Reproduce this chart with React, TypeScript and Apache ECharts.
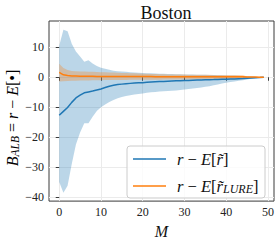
import React, { useEffect, useRef } from "react";
import * as echarts from "echarts";

const M = [0, 1, 2, 3, 4, 5, 6, 7, 8, 9, 10, 11, 12, 13, 14, 15, 16, 17, 18, 19, 20, 21, 22, 23, 24, 25, 26, 27, 28, 29, 30, 31, 32, 33, 34, 35, 36, 37, 38, 39, 40, 41, 42, 43, 44, 45, 46, 47, 48, 49];

const blueMean = [-12.7, -11.4, -10.1, -8.4, -6.9, -6.0, -5.2, -4.9, -4.6, -4.25, -3.9, -3.45, -3.0, -2.7, -2.45, -2.3, -2.15, -2.05, -1.95, -1.85, -1.8, -1.7, -1.6, -1.5, -1.45, -1.4, -1.3, -1.25, -1.2, -1.15, -1.1, -1.05, -1.0, -0.95, -0.9, -0.85, -0.8, -0.78, -0.72, -0.68, -0.65, -0.6, -0.55, -0.5, -0.45, -0.35, -0.25, -0.15, -0.08, 0.0];
const blueUpper = [10.5, 15.9, 15.4, 11.2, 8.6, 6.9, 5.2, 5.7, 4.6, 3.8, 3.2, 2.8, 2.5, 2.2, 2.0, 1.9, 1.8, 1.7, 1.6, 1.5, 1.4, 1.35, 1.3, 1.25, 1.2, 1.15, 1.1, 1.05, 1.0, 0.98, 0.95, 0.92, 0.9, 0.86, 0.82, 0.8, 0.76, 0.72, 0.7, 0.66, 0.62, 0.58, 0.55, 0.5, 0.45, 0.35, 0.25, 0.15, 0.08, 0.0];
const blueLower = [-35.0, -38.6, -36.3, -29.0, -22.5, -18.5, -15.4, -15.4, -13.2, -11.3, -10.0, -9.1, -8.3, -7.6, -7.0, -6.6, -6.3, -6.0, -5.8, -5.6, -5.4, -5.2, -5.0, -4.9, -4.8, -4.7, -4.6, -4.5, -4.4, -4.25, -4.1, -3.95, -3.8, -3.6, -3.4, -3.2, -3.0, -2.7, -2.4, -2.1, -1.8, -1.6, -1.4, -1.2, -1.0, -0.75, -0.5, -0.3, -0.15, 0.0];

const orangeMean = [1.6, 0.8, 0.55, 0.45, 0.4, 0.35, 0.32, 0.3, 0.3, 0.28, 0.27, 0.26, 0.25, 0.25, 0.24, 0.24, 0.23, 0.23, 0.22, 0.22, 0.22, 0.21, 0.21, 0.2, 0.2, 0.2, 0.2, 0.19, 0.19, 0.19, 0.18, 0.18, 0.18, 0.18, 0.17, 0.17, 0.17, 0.16, 0.16, 0.16, 0.15, 0.15, 0.15, 0.14, 0.14, 0.1, 0.07, 0.05, 0.03, 0.0];
const orangeUpper = [4.5, 3.1, 2.4, 2.1, 2.0, 1.95, 1.9, 1.85, 1.8, 1.75, 1.7, 1.65, 1.6, 1.55, 1.5, 1.45, 1.4, 1.35, 1.3, 1.25, 1.2, 1.15, 1.1, 1.05, 1.0, 1.0, 0.95, 0.95, 0.9, 0.9, 0.88, 0.85, 0.85, 0.82, 0.8, 0.8, 0.8, 0.78, 0.78, 0.78, 0.76, 0.76, 0.75, 0.75, 0.75, 0.25, 0.18, 0.12, 0.06, 0.0];
const orangeLower = [-1.4, -1.35, -1.25, -1.2, -1.15, -1.1, -1.08, -1.05, -1.02, -1.0, -0.98, -0.95, -0.93, -0.92, -0.9, -0.9, -0.88, -0.87, -0.86, -0.85, -0.84, -0.83, -0.82, -0.8, -0.8, -0.78, -0.77, -0.76, -0.75, -0.74, -0.73, -0.72, -0.72, -0.71, -0.7, -0.7, -0.69, -0.68, -0.68, -0.67, -0.66, -0.66, -0.65, -0.65, -0.64, -0.2, -0.15, -0.1, -0.05, 0.0];

const xTicks = [0, 10, 20, 30, 40, 50];
const yTicks = [-40, -30, -20, -10, 0, 10];

const BLUE = "#1f77b4";
const ORANGE = "#ff7f0e";
const FONT = "Liberation Serif";

const pairs = (arr: number[]) => arr.map((v, i) => [M[i], v]);
const fmt = (v: number) => (v < 0 ? "\u2212" + Math.abs(v) : String(v));

const band = (name: string, up: number[], lo: number[], color: string) => ({
  name,
  type: "custom",
  silent: true,
  z: 1,
  data: M.map((m, i) => [m, lo[i], up[i]]),
  encode: { x: 0, y: [1, 2] },
  renderItem: (params: any, api: any) => {
    if (params.dataIndex !== 0) return null;
    const pts: number[][] = [];
    for (let i = 0; i < M.length; i++) pts.push(api.coord([M[i], up[i]]));
    for (let i = M.length - 1; i >= 0; i--) pts.push(api.coord([M[i], lo[i]]));
    return {
      type: "polygon",
      shape: { points: pts },
      style: { fill: color, opacity: 0.3 },
    };
  },
});

export default function App() {
  const ref = useRef<HTMLDivElement>(null);
  useEffect(() => {
    if (!ref.current) return;
    const chart = echarts.init(ref.current, null, { renderer: "svg" });
    const rich = {
      i: { fontFamily: FONT, fontStyle: "italic", fontSize: 16, color: "#111" },
      n: { fontFamily: FONT, fontSize: 16, color: "#111" },
      s: { fontFamily: FONT, fontStyle: "italic", fontSize: 11.5, color: "#111", padding: [6, 0, 0, 0] },
    };
    const legendRich = {
      i: { fontFamily: FONT, fontStyle: "italic", fontSize: 16.5, color: "#111" },
      n: { fontFamily: FONT, fontSize: 16.5, color: "#111" },
      s: { fontFamily: FONT, fontStyle: "italic", fontSize: 12, color: "#111", padding: [6, 0, 0, 0] },
    };
    chart.setOption({
      animation: false,
      title: {
        text: "Boston",
        left: 161,
        top: -1,
        textAlign: "center",
        textStyle: { fontFamily: FONT, fontSize: 18, fontWeight: "normal", color: "#111" },
      },
      grid: {
        left: 49,
        right: 4,
        top: 21,
        bottom: 37,
        show: true,
        borderColor: "#3a3a3a",
        borderWidth: 1,
        containLabel: false,
      },
      xAxis: {
        type: "value",
        min: -2.45,
        max: 51.45,
        name: "M",
        nameLocation: "middle",
        nameGap: 21,
        nameTextStyle: { fontFamily: FONT, fontStyle: "italic", fontSize: 16, color: "#111" },
        axisLine: { show: false },
        axisTick: { show: true, length: 3.5, lineStyle: { color: "#3a3a3a" }, customValues: xTicks },
        axisLabel: { customValues: xTicks, formatter: fmt, fontFamily: FONT, fontSize: 12, color: "#222", margin: 5 },
        splitLine: { show: true, lineStyle: { color: "#ebebeb", width: 1 } },
      },
      yAxis: {
        type: "value",
        min: -41.4,
        max: 18.8,
        axisLine: { show: false },
        axisTick: { show: true, length: 3.5, lineStyle: { color: "#3a3a3a" }, customValues: yTicks },
        axisLabel: { customValues: yTicks, formatter: fmt, fontFamily: FONT, fontSize: 12, color: "#222", margin: 5 },
        splitLine: { show: true, lineStyle: { color: "#ebebeb", width: 1 } },
      },
      legend: {
        orient: "vertical",
        left: 127,
        top: 146,
        padding: [3, 6, 3, 6],
        itemGap: 7,
        itemWidth: 33,
        itemHeight: 1.5,
        icon: "rect",
        z: 10,
        data: ["blue", "orange"],
        formatter: (name: string) =>
          name === "blue"
            ? "{i|r}{n| \u2212 }{i|E}{n|[}{i|r\u0303}{n|]}"
            : "{i|r}{n| \u2212 }{i|E}{n|[}{i|r\u0303}{s|LURE}{n|]}",
        textStyle: { rich: legendRich, padding: [0, 0, 0, 6], lineHeight: 20 },
      },
      graphic: [
        {
          type: "rect",
          shape: { x: 127, y: 146, width: 138, height: 52, r: 3 },
          style: { fill: "rgba(255,255,255,0.8)", stroke: "#cccccc", lineWidth: 1 },
          z: 3,
        },
        {
          type: "text",
          x: 12,
          y: 118,
          rotation: Math.PI / 2,
          style: {
            text: "{i|B}{s|ALB}{n| = }{i|r}{n| \u2212 }{i|E}{n|[\u2022]}",
            rich,
            align: "center",
            verticalAlign: "middle",
          },
          z: 3,
        },
      ],
      series: [
        band("bband", blueUpper, blueLower, BLUE),
        {
          name: "blue",
          type: "line",
          data: pairs(blueMean),
          symbol: "none",
          lineStyle: { color: BLUE, width: 1.5 },
          itemStyle: { color: BLUE },
          z: 2,
        },
        band("oband", orangeUpper, orangeLower, ORANGE),
        {
          name: "orange",
          type: "line",
          data: pairs(orangeMean),
          symbol: "none",
          lineStyle: { color: ORANGE, width: 1.5 },
          itemStyle: { color: ORANGE },
          z: 2,
        },
      ],
    });
    return () => chart.dispose();
  }, []);
  return <div ref={ref} style={{ width: 278, height: 244, position: "absolute", left: 0, top: 0 }} />;
}
